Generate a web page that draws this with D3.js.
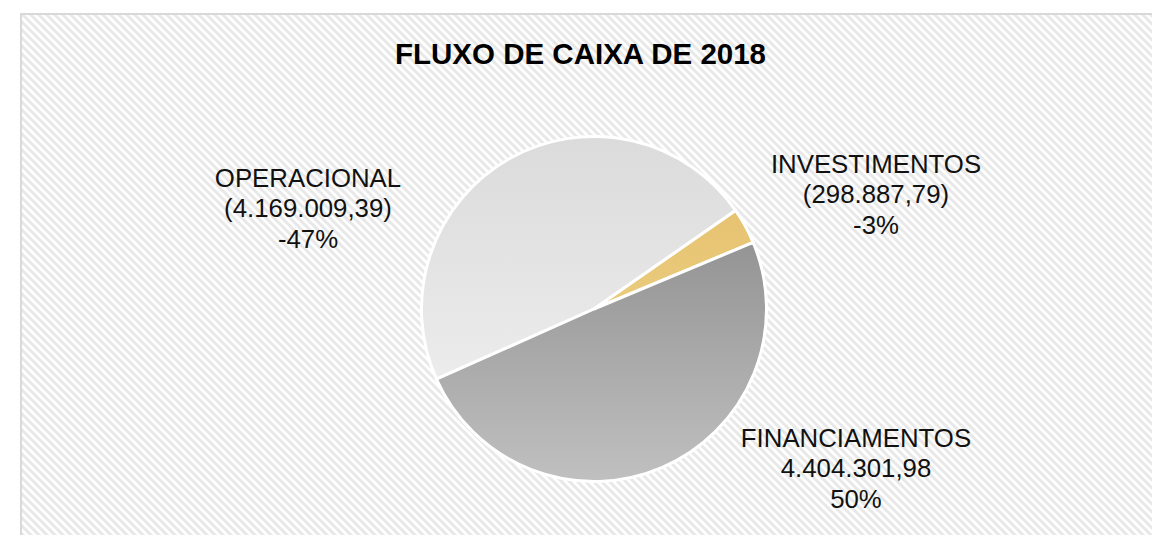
<!DOCTYPE html>
<html>
<head>
<meta charset="utf-8">
<script src="https://cdn.jsdelivr.net/npm/d3@7"></script>
<style>
  body { margin: 0; background: #fff; }
  svg { display: block; }
</style>
</head>
<body>
<div id="chart"></div>
<script>
// data
var categories = ["OPERACIONAL", "INVESTIMENTOS", "FINANCIAMENTOS"];
var values = [-4169009.39, -298887.79, 4404301.98];
var title = "FLUXO DE CAIXA DE 2018";

var width = 1152, height = 535;

var svg = d3.select("#chart").append("svg")
    .attr("width", width)
    .attr("height", height);

var defs = svg.append("defs");

// hatched background like excel "wide downward diagonal"
var pat = defs.append("pattern")
    .attr("id", "hatch")
    .attr("patternUnits", "userSpaceOnUse")
    .attr("width", 8)
    .attr("height", 8);
pat.append("rect").attr("width", 8).attr("height", 8).attr("fill", "#ffffff");
pat.append("path")
    .attr("d", "M-4,4 L4,12 M0,0 L8,8 M4,-4 L12,4")
    .attr("stroke", "#e8e8e8")
    .attr("stroke-width", 3);

// gradients for the slices
function grad(id, top, bottom) {
  var g = defs.append("linearGradient")
      .attr("id", id)
      .attr("x1", 0).attr("y1", 0).attr("x2", 0).attr("y2", 1);
  g.append("stop").attr("offset", "0%").attr("stop-color", top);
  g.append("stop").attr("offset", "100%").attr("stop-color", bottom);
}
grad("g0", "#dbdbdb", "#ececec");
grad("g1", "#e6c371", "#eacb7d");
grad("g2", "#949494", "#c0c0c0");

var fills = ["url(#g0)", "url(#g1)", "url(#g2)"];

// chart area
svg.append("rect")
    .attr("x", 21)
    .attr("y", 14)
    .attr("width", width + 20)
    .attr("height", height + 20)
    .attr("fill", "url(#hatch)")
    .attr("stroke", "#d9d9d9")
    .attr("stroke-width", 2);

svg.append("text")
    .attr("x", 580.5)
    .attr("y", 63.5)
    .attr("text-anchor", "middle")
    .style("font-family", '"Liberation Sans", Arial, sans-serif')
    .style("font-size", "29.5px")
    .style("font-weight", "700")
    .attr("fill", "#000")
    .text(title);

// pie
var cx = 594, cy = 309, radius = 172.5;
var deg = Math.PI / 180;

var total = d3.sum(values, function(d) { return Math.abs(d); });

var pie = d3.pie()
    .sort(null)
    .value(function(d) { return Math.abs(d); })
    .startAngle(246 * deg)
    .endAngle(606 * deg);

var arc = d3.arc().innerRadius(0).outerRadius(radius);

var g = svg.append("g")
    .attr("transform", "translate(" + cx + "," + cy + ")");

g.selectAll(".slice")
    .data(pie(values))
  .enter().append("path")
    .attr("class", "slice")
    .attr("d", arc)
    .attr("fill", function(d, i) { return fills[i]; })
    .attr("stroke", "#ffffff")
    .attr("stroke-width", 3)
    .attr("stroke-linejoin", "round");

// number formats pt-BR style
var br = d3.formatLocale({decimal: ",", thousands: ".", grouping: [3], currency: ["", ""]});
var fmt = br.format(",.2f");
function money(v) { return v < 0 ? "(" + fmt(-v) + ")" : fmt(v); }
function pct(v) { return Math.round(v / total * 100) + "%"; }

// label anchors relative to pie center (centre x, first baseline)
var labelPos = [[-286, -122], [282, -136.3], [262, 137.7]];
var lineH = 30.4;

var labels = svg.append("g")
    .style("font-family", '"Liberation Sans", Arial, sans-serif')
    .style("font-size", "25.8px")
    .attr("fill", "#111");

values.forEach(function(v, i) {
  var lines = [categories[i], money(v), pct(v)];
  var t = labels.append("text")
      .attr("text-anchor", "middle")
      .attr("x", cx + labelPos[i][0])
      .attr("y", cy + labelPos[i][1]);
  lines.forEach(function(s, j) {
    t.append("tspan")
        .attr("x", cx + labelPos[i][0])
        .attr("y", cy + labelPos[i][1] + j * lineH)
        .text(s);
  });
});
</script>
</body>
</html>
